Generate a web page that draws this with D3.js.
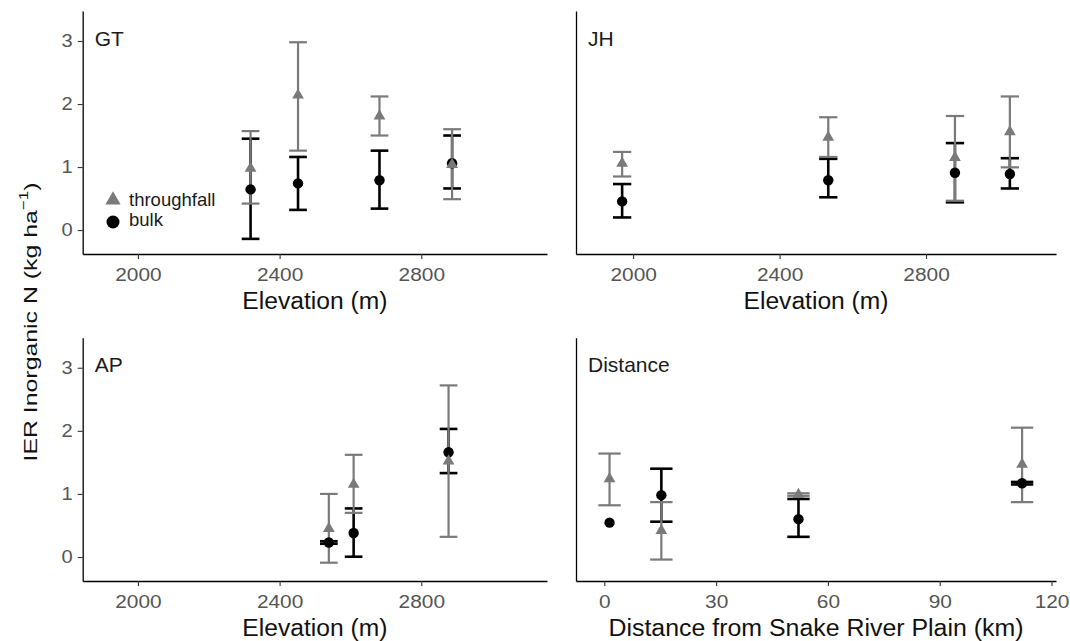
<!DOCTYPE html>
<html>
<head>
<meta charset="utf-8">
<script src="https://cdn.jsdelivr.net/npm/d3@7"></script>
<style>
body { margin: 0; background: #fff; }
svg { display: block; font-family: "Liberation Sans", Arial, sans-serif; }
</style>
</head>
<body>
<div class="chart"></div>
<script>
// tick values
var yTicks = [0, 1, 2, 3];
var elevTicks = [2000, 2400, 2800];
var distTicks = [0, 30, 60, 90, 120];

// GT
var gtElev = [2318, 2452, 2682, 2887];
var gtTf = [0.98, 2.14, 1.81, 1.04];
var gtTfLo = [0.42, 1.26, 1.50, 0.49];
var gtTfHi = [1.57, 2.98, 2.12, 1.60];
var gtBulk = [0.645, 0.74, 0.79, 1.06];
var gtBulkLo = [-0.14, 0.32, 0.34, 0.66];
var gtBulkHi = [1.45, 1.16, 1.26, 1.50];

// JH
var jhElev = [1970, 2533, 2879, 3029];
var jhTf = [1.06, 1.47, 1.15, 1.56];
var jhTfLo = [0.85, 1.16, 0.465, 0.995];
var jhTfHi = [1.24, 1.79, 1.81, 2.12];
var jhBulk = [0.455, 0.79, 0.91, 0.89];
var jhBulkLo = [0.20, 0.52, 0.44, 0.66];
var jhBulkHi = [0.73, 1.13, 1.38, 1.14];

// AP
var apElev = [2539, 2609, 2877];
var apTf = [0.45, 1.15, 1.52];
var apTfLo = [-0.09, 0.70, 0.32];
var apTfHi = [1.00, 1.62, 2.72];
var apBulk = [0.23, 0.38, 1.66];
var apBulkLo = [0.21, 0.005, 1.33];
var apBulkHi = [0.25, 0.77, 2.03];

// Distance
var distKm = [1.4, 15.3, 52.1, 112.1];
var distTf = [1.24, 0.42, 0.99, 1.47];
var distTfLo = [0.82, -0.04, 0.97, 0.87];
var distTfHi = [1.64, 0.87, 1.01, 2.05];
var distBulk = [0.545, 0.98, 0.60, 1.17];
var distBulkLo = [null, 0.56, 0.32, 1.15];
var distBulkHi = [null, 1.40, 0.92, 1.19];

var svgWidth = 1070;
var svgHeight = 641;
var grey = "#7a7a7a";
var yDomain = [-0.38, 3.476];

var svg = d3.select(".chart")
    .append("svg")
    .attr("width", svgWidth)
    .attr("height", svgHeight);

function styleTickText(sel, perChar) {
    sel.selectAll("text")
        .attr("font-size", 18)
        .attr("fill", "#555")
        .attr("textLength", function() { return this.textContent.length * perChar; })
        .attr("lengthAdjust", "spacingAndGlyphs");
}

function drawPanel(p) {
    var x = d3.scaleLinear().domain(p.xDomain).range([p.left, p.right]);
    var y = d3.scaleLinear().domain(yDomain).range([p.bottom, p.top]);
    var g = svg.append("g");

    // x axis
    var xAxis = g.append("g")
        .attr("transform", `translate(0,${p.bottom})`)
        .attr("font-family", null).attr("font-size", null)
        .call(d3.axisBottom(x).tickValues(p.xTicks).tickFormat(d3.format("d"))
            .tickSize(5).tickPadding(9).tickSizeOuter(0));
    xAxis.select(".domain").attr("stroke", "#000").attr("stroke-width", 1.3);
    xAxis.selectAll(".tick line").attr("stroke", "#333").attr("stroke-width", 1.1);
    styleTickText(xAxis, 11.6);

    // y axis
    var yAxis = g.append("g")
        .attr("transform", `translate(${p.left},0)`)
        .attr("font-family", null).attr("font-size", null)
        .call(d3.axisLeft(y).tickValues(p.showY ? yTicks : []).tickFormat(d3.format("d"))
            .tickSize(5).tickPadding(5).tickSizeOuter(0));
    yAxis.select(".domain").attr("stroke", "#000").attr("stroke-width", 1.3);
    yAxis.selectAll(".tick line").attr("stroke", "#333").attr("stroke-width", 1.1);
    styleTickText(yAxis, 11.2);

    // axis title
    g.append("text")
        .attr("x", (p.left + p.right) / 2)
        .attr("y", p.bottom + 55)
        .attr("text-anchor", "middle")
        .attr("font-size", 23)
        .attr("fill", "#111")
        .attr("textLength", p.titleLen)
        .attr("lengthAdjust", "spacingAndGlyphs")
        .text(p.xTitle);

    // panel label
    g.append("text")
        .attr("x", p.left + 12)
        .attr("y", p.top + 34.5)
        .attr("font-size", 21)
        .attr("fill", "#1a1a1a")
        .text(p.label);

    // error bars: bulk first, throughfall on top
    var series = [
        {mean: p.bulk, lo: p.bulkLo, hi: p.bulkHi, color: "#000", w: 2.6},
        {mean: p.tf, lo: p.tfLo, hi: p.tfHi, color: grey, w: 2.2}
    ];
    series.forEach(function(s) {
        var bars = p.xs.map(function(xv, i) {
            return {x: xv, lo: s.lo[i], hi: s.hi[i]};
        }).filter(function(d) { return d.lo != null; });
        var eb = g.append("g").attr("stroke", s.color).attr("stroke-width", s.w).attr("fill", "none");
        eb.selectAll(".stem").data(bars).enter().append("line")
            .attr("x1", d => x(d.x)).attr("x2", d => x(d.x))
            .attr("y1", d => y(d.lo)).attr("y2", d => y(d.hi));
        eb.selectAll(".caplo").data(bars).enter().append("line")
            .attr("x1", d => x(d.x - p.cap / 2)).attr("x2", d => x(d.x + p.cap / 2))
            .attr("y1", d => y(d.lo)).attr("y2", d => y(d.lo));
        eb.selectAll(".caphi").data(bars).enter().append("line")
            .attr("x1", d => x(d.x - p.cap / 2)).attr("x2", d => x(d.x + p.cap / 2))
            .attr("y1", d => y(d.hi)).attr("y2", d => y(d.hi));
    });

    // points
    g.selectAll(".bulk").data(p.xs).enter().append("circle")
        .attr("cx", d => x(d))
        .attr("cy", (d, i) => y(p.bulk[i]))
        .attr("r", 5.2)
        .attr("fill", "#000");
    g.selectAll(".tf").data(p.xs).enter().append("path")
        .attr("d", d3.symbol(d3.symbolTriangle, 60))
        .attr("transform", (d, i) => `translate(${x(d)},${y(p.tf[i])})`)
        .attr("fill", grey);

    return g;
}

var elevDomain = [1844, 3155];
var distDomain = [-7.6, 121.2];

var gt = drawPanel({left: 82.7, right: 547, top: 11, bottom: 254, xDomain: elevDomain, xTicks: elevTicks,
    showY: true, label: "GT", xTitle: "Elevation (m)", titleLen: 145, cap: 50,
    xs: gtElev, tf: gtTf, tfLo: gtTfLo, tfHi: gtTfHi, bulk: gtBulk, bulkLo: gtBulkLo, bulkHi: gtBulkHi});

drawPanel({left: 576, right: 1056, top: 11, bottom: 254, xDomain: elevDomain, xTicks: elevTicks,
    showY: false, label: "JH", xTitle: "Elevation (m)", titleLen: 145, cap: 50,
    xs: jhElev, tf: jhTf, tfLo: jhTfLo, tfHi: jhTfHi, bulk: jhBulk, bulkLo: jhBulkLo, bulkHi: jhBulkHi});

drawPanel({left: 82.7, right: 547, top: 337.7, bottom: 581, xDomain: elevDomain, xTicks: elevTicks,
    showY: true, label: "AP", xTitle: "Elevation (m)", titleLen: 145, cap: 50,
    xs: apElev, tf: apTf, tfLo: apTfLo, tfHi: apTfHi, bulk: apBulk, bulkLo: apBulkLo, bulkHi: apBulkHi});

drawPanel({left: 576, right: 1056, top: 337.7, bottom: 581, xDomain: distDomain, xTicks: distTicks,
    showY: false, label: "Distance", xTitle: "Distance from Snake River Plain (km)", titleLen: 415, cap: 6,
    xs: distKm, tf: distTf, tfLo: distTfLo, tfHi: distTfHi, bulk: distBulk, bulkLo: distBulkLo, bulkHi: distBulkHi});

// legend inside GT panel
var legend = gt.append("g");
legend.append("path")
    .attr("d", d3.symbol(d3.symbolTriangle, 100))
    .attr("transform", "translate(113,200)")
    .attr("fill", grey);
legend.append("circle")
    .attr("cx", 113).attr("cy", 222).attr("r", 6.5)
    .attr("fill", "#000");
legend.append("text").attr("x", 129).attr("y", 206).attr("font-size", 18.5).attr("fill", "#1a1a1a").text("throughfall");
legend.append("text").attr("x", 129).attr("y", 226).attr("font-size", 18.5).attr("fill", "#1a1a1a").text("bulk");

// shared y title
var yt = svg.append("text")
    .attr("font-size", 19)
    .attr("fill", "#111")
    .attr("text-anchor", "middle");
yt.append("tspan").text("IER Inorganic N (kg ha");
yt.append("tspan").attr("dy", -9).attr("font-size", 13).text("\u22121");
yt.append("tspan").attr("dy", 9).text(")");
var ytLen = yt.node().getComputedTextLength();
yt.attr("transform", `translate(37,322) rotate(-90) scale(${279 / ytLen},1)`);
</script>
</body>
</html>
